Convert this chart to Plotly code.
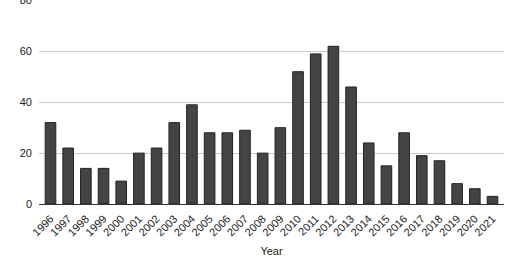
import plotly.graph_objects as go

years = [str(y) for y in range(1996, 2022)]
counts = [32, 22, 14, 14, 9, 20, 22, 32, 39, 28, 28, 29, 20, 30, 52, 59, 62, 46, 24, 15, 28, 19, 17, 8, 6, 3]
y_ticks = [0, 20, 40, 60, 80]

fig = go.Figure(go.Bar(
    x=years, y=counts,
    marker=dict(color="#444444", line=dict(color="#222222", width=1)),
    width=0.6,
))

fig.update_layout(
    width=520, height=272,
    margin=dict(l=39, r=16, t=0, b=68, autoexpand=False),
    paper_bgcolor="white", plot_bgcolor="white",
    font=dict(family="Liberation Sans, Arial, sans-serif", size=11, color="#222222"),
    showlegend=False,
    bargap=0.4,
)
fig.update_xaxes(
    type="category", range=[-0.65, 25.65], automargin=False,
    tickangle=-45, tickfont=dict(size=11, color="#222222"),
    showgrid=False, showline=True, linecolor="#333333", linewidth=1,
    ticks="", ticklabelstandoff=3,
    title=dict(text="Year", font=dict(size=11, color="#222222"), standoff=9),
)
fig.update_yaxes(
    range=[0, 80.2], tickvals=y_ticks, showgrid=True, gridcolor="#cccccc", gridwidth=1,
    zeroline=False, ticks="", ticklabelstandoff=6, ticklabeloverflow="allow",
    automargin=False,
    tickfont=dict(size=11, color="#222222"),
)

fig.write_html("out.html")
